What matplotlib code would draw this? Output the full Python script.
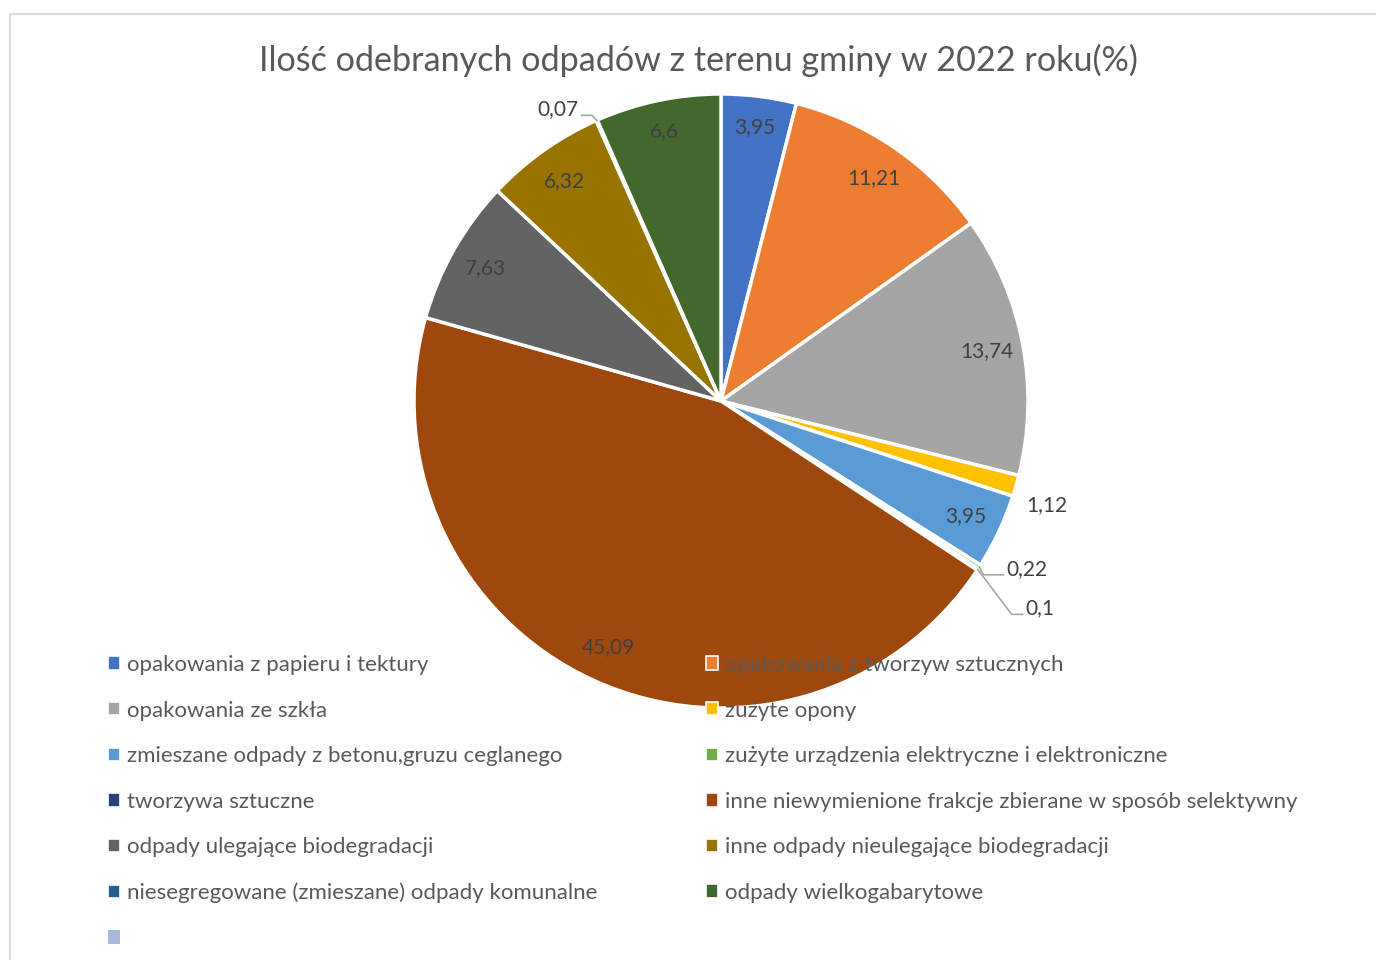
import numpy as np
import matplotlib
matplotlib.use('Agg')
import matplotlib.pyplot as plt
from matplotlib.patches import Patch, Rectangle

plt.rcParams['font.family'] = ['Lato', 'DejaVu Sans']

# Data
title = 'Ilość odebranych odpadów z terenu gminy w 2022 roku(%)'
categories = [
    'opakowania z papieru i tektury',
    'opakowania z tworzyw sztucznych',
    'opakowania ze szkła',
    'zużyte opony',
    'zmieszane odpady z betonu,gruzu ceglanego',
    'zużyte urządzenia elektryczne i elektroniczne',
    'tworzywa sztuczne',
    'inne niewymienione frakcje zbierane w sposób selektywny',
    'odpady ulegające biodegradacji',
    'inne odpady nieulegające biodegradacji',
    'niesegregowane (zmieszane) odpady komunalne',
    'odpady wielkogabarytowe',
]
values = [3.95, 11.21, 13.74, 1.12, 3.95, 0.22, 0.1, 45.09, 7.63, 6.32, 0.07, 6.6]
colors = ['#4472C4', '#ED7D31', '#A5A5A5', '#FFC000', '#5B9BD5', '#70AD47',
          '#264478', '#9E480E', '#636363', '#997300', '#255E91', '#43682B']
extra_label = ''          # 13th, empty legend entry
extra_color = '#A9B7DD'

W, H = 1376, 960
fig = plt.figure(figsize=(W / 100, H / 100), dpi=100)

# chart frame
fig.patches.append(Rectangle((10 / W, -0.1), 1.2, 1 - 14 / H + 0.1,
                             transform=fig.transFigure, fill=False,
                             edgecolor='#D9D9D9', linewidth=1.3))

fig.text(698 / W, 1 - 60 / H, title, ha='center', va='center',
         fontsize=24.6, color='#595959')

# pie axes placed in pixels: center (721, 401), radius 307
cx, cy, R = 721, 401, 307
ax = fig.add_axes([(cx - R) / W, (H - cy - R) / H, 2 * R / W, 2 * R / H])
wedges, _ = ax.pie(values, colors=colors, startangle=90, counterclock=False,
                   wedgeprops=dict(edgecolor='white', linewidth=2.5))
ax.set_xlim(-1, 1)
ax.set_ylim(-1, 1)
ax.axis('off')

def fmt(v):
    return f'{v:g}'.replace('.', ',')

# small slices: label offset (no line) or leader line points, px from wedge edge
outside = {
    3: (31, 19),
    5: [(4, 8), (24, 8)],
    6: [(34, 45), (45, 45)],
    10: [(-5, -5), (-15, -5)],
}
txt_color = '#404040'
lab_fs = 15
for i, w in enumerate(wedges):
    ang = np.deg2rad((w.theta1 + w.theta2) / 2)
    ca, sa = np.cos(ang), np.sin(ang)
    if i not in outside:
        r = 0.88 if sa < 0.9 else 0.9
        ax.text(r * ca, r * sa, fmt(values[i]), ha='center', va='center',
                fontsize=lab_fs, color=txt_color)
    elif isinstance(outside[i], tuple):
        dx, dy = outside[i]
        ax.text(ca + dx / R, sa - dy / R, fmt(values[i]), ha='center', va='center',
                fontsize=lab_fs, color=txt_color, clip_on=False)
    else:
        pts = [(ca, sa)] + [(ca + dx / R, sa - dy / R) for dx, dy in outside[i]]
        xs, ys = zip(*pts)
        ax.plot(xs, ys, color='#A6A6A6', lw=1.2, clip_on=False)
        ex, ey = pts[-1]
        ha = 'left' if ex > pts[-2][0] else 'right'
        off = 3 / R if ha == 'left' else -3 / R
        ax.text(ex + off, ey + 6 / R, fmt(values[i]), ha=ha, va='center',
                fontsize=lab_fs, color=txt_color, clip_on=False)

# legend in two columns, row-wise order like Excel
handles = [Patch(facecolor=c, edgecolor='white', linewidth=1.2) for c in colors]
handles.append(Patch(facecolor=extra_color, edgecolor='none'))
labels = categories + [extra_label]
left_idx = list(range(0, 13, 2))
right_idx = list(range(1, 13, 2))
common = dict(frameon=False, fontsize=16, labelcolor='#595959',
              handlelength=0.55, handleheight=0.55, handletextpad=0.32,
              labelspacing=1.15, borderpad=0, borderaxespad=0, loc='upper left')
leg1 = fig.legend([handles[i] for i in left_idx], [labels[i] for i in left_idx],
                  bbox_to_anchor=(108 / W, 1 - 655 / H), **common)
leg2 = fig.legend([handles[i] for i in right_idx], [labels[i] for i in right_idx],
                  bbox_to_anchor=(706 / W, 1 - 655 / H), **common)
leg1.set_zorder(10)
leg2.set_zorder(10)

fig.savefig('out.png', dpi=100)
